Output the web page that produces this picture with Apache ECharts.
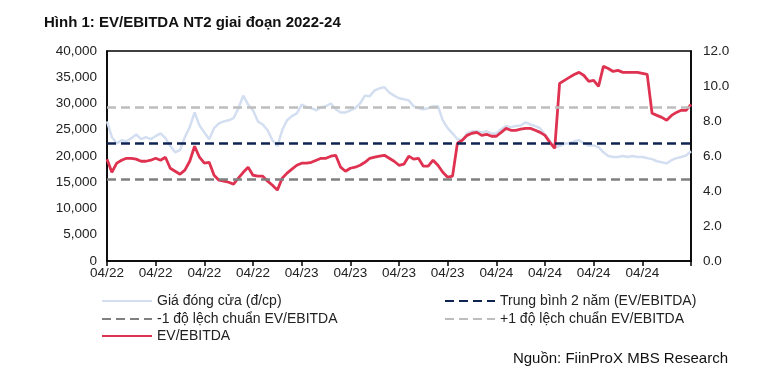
<!DOCTYPE html>
<html>
<head>
<meta charset="utf-8">
<script src="https://cdn.jsdelivr.net/npm/echarts@6/dist/echarts.min.js"></script>
<style>
html,body{margin:0;padding:0;background:#fff;}
#c{width:782px;height:387px;}
</style>
</head>
<body>
<div id="c"></div>
<script>
// ---- data ----
var TICK_LABELS = ["04/22","04/22","04/22","04/22","04/23","04/23","04/23","04/23","04/24","04/24","04/24","04/24",""];

// Closing price (VND/share), left axis
var PRICE = [
26600,23600,22400,23000,22800,23400,24100,23200,23600,23200,
23800,24300,23400,21900,20700,21100,23600,25500,28300,25800,
24500,23200,25300,26200,26600,26800,27200,29100,31500,29800,
28700,26600,26000,24900,23000,21900,24900,26800,27600,28100,
29800,29300,29100,28700,29300,29500,30000,28900,28300,28300,
28700,29100,30000,31500,31400,32500,32900,33100,32100,31500,
31000,30800,30600,29500,29100,28900,29100,29500,29500,26800,
25300,24300,23200,23000,24300,24700,24700,24500,24700,24300,
24300,25100,25700,25500,25700,25800,26400,26000,25700,25300,
24100,22800,21700,21900,22400,22400,22800,23000,22400,22000,
22000,21700,20700,20000,19800,19800,20000,19800,20000,19800,
19800,19600,19400,19000,18800,18600,19200,19600,19800,20100,
20900
];

// EV/EBITDA multiple, right axis
var EV_EBITDA = [
5.82,5.07,5.59,5.76,5.87,5.87,5.82,5.70,5.70,5.76,
5.87,5.76,5.93,5.30,5.13,4.96,5.19,5.70,6.56,5.93,
5.59,5.64,4.90,4.62,4.56,4.50,4.39,4.73,5.07,5.36,
4.90,4.85,4.85,4.56,4.33,4.05,4.73,5.02,5.25,5.47,
5.59,5.59,5.64,5.76,5.87,5.87,5.99,6.04,5.36,5.13,
5.30,5.36,5.47,5.64,5.87,5.93,5.99,6.04,5.87,5.70,
5.47,5.53,5.99,5.82,5.87,5.42,5.42,5.76,5.47,5.07,
4.79,4.85,6.73,6.90,7.18,7.30,7.35,7.18,7.24,7.13,
7.13,7.35,7.58,7.47,7.47,7.53,7.58,7.58,7.47,7.35,
7.18,6.78,6.44,10.15,10.32,10.49,10.66,10.78,10.60,10.26,
10.32,9.98,11.12,11.00,10.83,10.89,10.78,10.78,10.78,10.78,
10.72,10.66,8.44,8.32,8.21,8.04,8.32,8.49,8.61,8.61,
8.95
];

var MEAN_2Y = 6.72;   // Trung bình 2 năm
var MINUS_1SD = 4.67; // -1 độ lệch chuẩn
var PLUS_1SD = 8.77;  // +1 độ lệch chuẩn

var SERIES_NAMES = ["Giá đóng cửa (đ/cp)","Trung bình 2 năm (EV/EBITDA)","-1 độ lệch chuẩn EV/EBITDA","+1 độ lệch chuẩn EV/EBITDA","EV/EBITDA"];

// ---- chart ----
var STEP = 10;
var cats = PRICE.map(function(_, i){ return String(i); });
var FONT = "'Liberation Sans', Arial, sans-serif";
var chart = echarts.init(document.getElementById('c'), null, {renderer:'canvas'});

function legendAt(name, left, top){
  return {
    data:[name], left:left, top:top, orient:'horizontal',
    itemWidth:50, itemHeight:12, itemGap:0, padding:0,
    itemStyle:{opacity:0, borderWidth:0},
    textStyle:{fontFamily:FONT, fontSize:14, color:'#222', padding:[0,0,0,0]},
    selectedMode:false
  };
}
function dashed(color){ return {color:color, width:2.5, type:[9,5]}; }

chart.setOption({
  animation:false,
  backgroundColor:'#fff',
  title:[
    {text:'Hình 1: EV/EBITDA NT2 giai đoạn 2022-24', left:39, top:10,
     textStyle:{fontFamily:FONT, fontSize:15, fontWeight:'bold', color:'#111'}},
    {text:'Nguồn: FiinProX MBS Research', right:49, top:346,
     textStyle:{fontFamily:FONT, fontSize:15, fontWeight:'normal', color:'#111'}}
  ],
  legend:[
    legendAt(SERIES_NAMES[0], 101, 294),
    legendAt(SERIES_NAMES[1], 444, 294),
    legendAt(SERIES_NAMES[2], 101, 312),
    legendAt(SERIES_NAMES[3], 444, 312),
    legendAt(SERIES_NAMES[4], 101, 329)
  ],
  grid:{left:107, right:91, top:51, bottom:126, show:true, borderColor:'#000', borderWidth:1.5, backgroundColor:'transparent'},
  xAxis:{
    type:'category', data:cats, boundaryGap:false,
    axisLine:{lineStyle:{color:'#000', width:1.5}},
    axisTick:{show:true, interval:STEP-1, length:5, inside:false, lineStyle:{color:'#000', width:1.5}},
    axisLabel:{interval:STEP-1, margin:5, fontFamily:FONT, fontSize:13.5, color:'#222',
      formatter:function(v, idx){ return TICK_LABELS[Math.round(idx/STEP)] || ''; }},
    splitLine:{show:false}
  },
  yAxis:[
    {type:'value', min:0, max:40000, interval:5000, position:'left',
     axisLine:{show:true, lineStyle:{color:'#000', width:1.5}}, axisTick:{show:false},
     splitLine:{show:false},
     axisLabel:{margin:10, fontFamily:FONT, fontSize:13.5, color:'#222',
       formatter:function(v){ return v.toLocaleString('en-US'); }}},
    {type:'value', min:0, max:12, interval:2, position:'right',
     axisLine:{show:true, lineStyle:{color:'#000', width:1.5}}, axisTick:{show:false},
     splitLine:{show:false},
     axisLabel:{margin:12, fontFamily:FONT, fontSize:13.5, color:'#222',
       formatter:function(v){ return v.toFixed(1); }}}
  ],
  series:[
    {name:SERIES_NAMES[0], type:'line', yAxisIndex:0, data:PRICE, symbol:'none', z:1,
     lineStyle:{color:'#d3dff1', width:2.5}, itemStyle:{color:'#d3dff1'}},
    {name:SERIES_NAMES[1], type:'line', yAxisIndex:1, data:[], symbol:'none', z:2,
     lineStyle:dashed('#0f2352'), itemStyle:{color:'#0f2352'},
     markLine:{silent:true, symbol:'none', label:{show:false}, lineStyle:dashed('#0f2352'),
       data:[{yAxis:MEAN_2Y}]}},
    {name:SERIES_NAMES[2], type:'line', yAxisIndex:1, data:[], symbol:'none', z:2,
     lineStyle:dashed('#808080'), itemStyle:{color:'#808080'},
     markLine:{silent:true, symbol:'none', label:{show:false}, lineStyle:dashed('#808080'),
       data:[{yAxis:MINUS_1SD}]}},
    {name:SERIES_NAMES[3], type:'line', yAxisIndex:1, data:[], symbol:'none', z:2,
     lineStyle:dashed('#bdbdbd'), itemStyle:{color:'#bdbdbd'},
     markLine:{silent:true, symbol:'none', label:{show:false}, lineStyle:dashed('#bdbdbd'),
       data:[{yAxis:PLUS_1SD}]}},
    {name:SERIES_NAMES[4], type:'line', yAxisIndex:1, data:EV_EBITDA, symbol:'none', z:3,
     lineStyle:{color:'#df3150', width:2.8}, itemStyle:{color:'#df3150'}}
  ]
});
</script>
</body>
</html>
